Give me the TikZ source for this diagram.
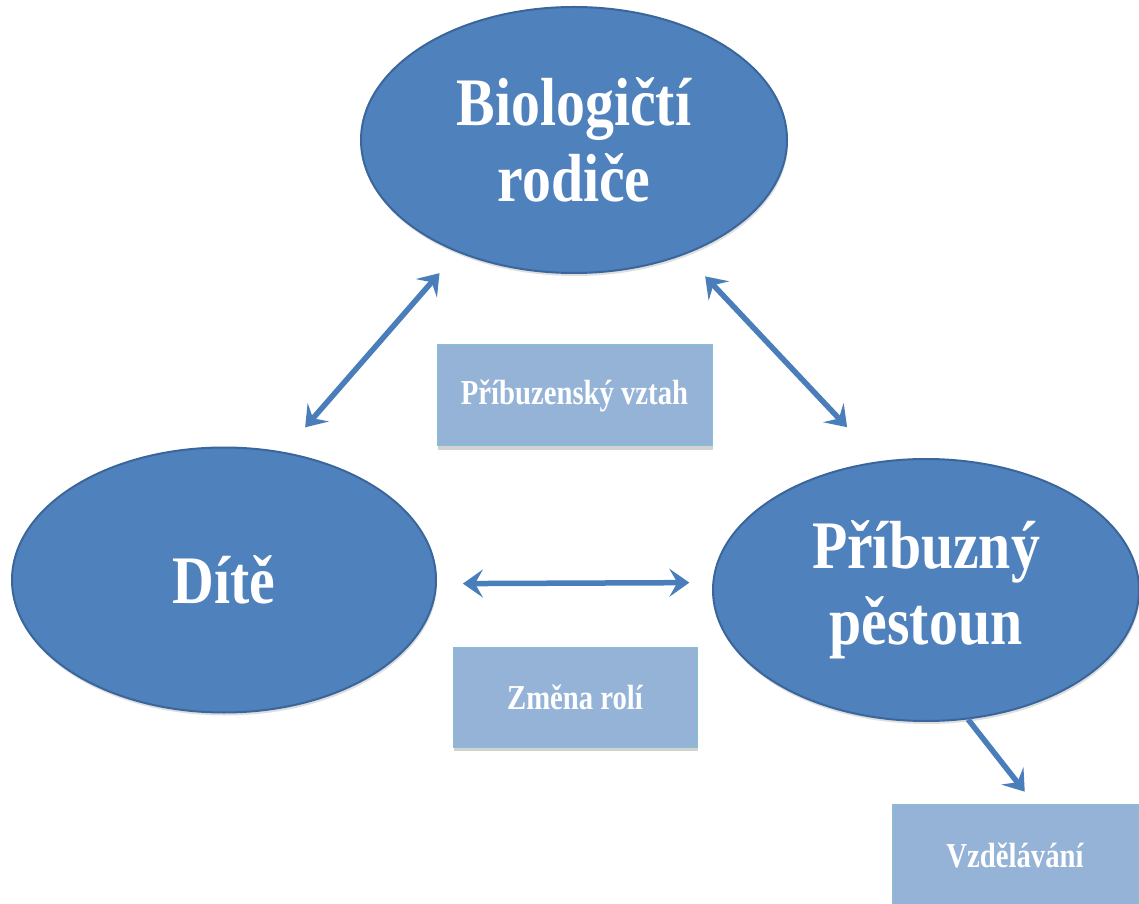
\documentclass[tikz,border=0pt]{standalone}
\usepackage{fontspec}
\newfontfamily\bigserif[FakeStretch=0.85]{Liberation Serif}
\newfontfamily\smallserif[FakeStretch=0.82]{Liberation Serif}
\usetikzlibrary{arrows.meta,shadows,shapes.geometric}
\definecolor{ellfill}{HTML}{4F81BD}
\definecolor{elldraw}{HTML}{3A669C}
\definecolor{boxfill}{HTML}{95B3D7}
\definecolor{boxdraw}{HTML}{86C1D2}
\definecolor{arrcol}{HTML}{4A7EBB}
\tikzset{
  bigell/.style={ellipse, fill=ellfill, draw=elldraw, line width=2pt, inner sep=0pt,
    text=white, align=center,
    font=\bigserif\bfseries\fontsize{68}{76}\selectfont,
    drop shadow={opacity=0.25, shadow xshift=1pt, shadow yshift=-3pt}},
  labbox/.style={rectangle, fill=boxfill, draw=boxdraw, line width=1pt, inner sep=0pt,
    text=white, font=\smallserif\bfseries\fontsize{35}{40}\selectfont,
    drop shadow={opacity=0.35, shadow xshift=1pt, shadow yshift=-4pt}},
  dblarr/.style={draw=arrcol, line width=5.5pt,
    {Stealth[length=20pt,width=28pt,inset=8pt]}-{Stealth[length=20pt,width=28pt,inset=8pt]}},
  onearr/.style={draw=arrcol, line width=5.5pt,
    -{Stealth[length=20pt,width=28pt,inset=8pt]}}
}
\begin{document}
\begin{tikzpicture}[x=1pt,y=1pt]
\useasboundingbox (0,0) rectangle (1139,903);
\fill[white] (0,0) rectangle (1139,903);
\clip (0,0) rectangle (1139,903);

\node[bigell, minimum width=426pt, minimum height=266pt] (bio) at (574,763) {Biologičtí\\rodiče};
\node[bigell, minimum width=424pt, minimum height=265pt] (dite) at (224,323) {Dítě};
\node[bigell, minimum width=426pt, minimum height=262pt] (pest) at (926,313) {Příbuzný\\pěstoun};

\node[labbox, minimum width=275pt, minimum height=101pt] (vztah) at (574.5,507.5) {Příbuzenský vztah};
\node[labbox, minimum width=244pt, minimum height=100pt] (zmena) at (575,206) {Změna rolí};
\node[labbox, minimum width=246pt, minimum height=102pt] (vzd) at (1015,48) {Vzdělávání};

\draw[dblarr, shorten <=32.5pt, shorten >=27.5pt] (dite.65.85) -- (bio.224.7);
\draw[dblarr, shorten <=29.8pt, shorten >=46.7pt] (bio.314.7) -- (pest.110.8);
\draw[dblarr, shorten <=26pt, shorten >=23pt] (dite.-1.35) -- (pest.178.65);
\draw[onearr, shorten >=15pt] (pest.288.2) -- ([xshift=19pt]vzd.north);
\end{tikzpicture}
\end{document}
